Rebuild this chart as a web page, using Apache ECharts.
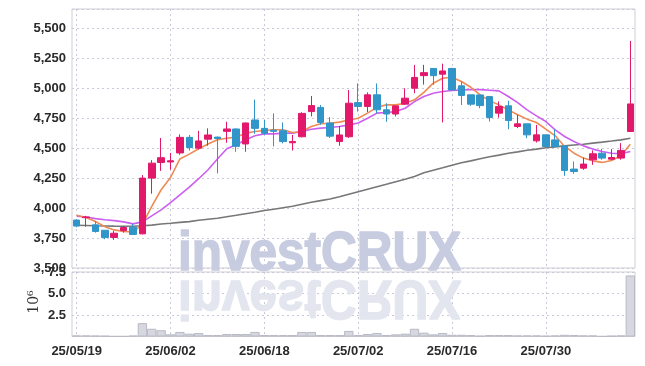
<!DOCTYPE html>
<html><head><meta charset="utf-8">
<script src="https://cdn.jsdelivr.net/npm/echarts@6/dist/echarts.min.js"></script>
<style>html,body{margin:0;padding:0;background:#fff}#c{width:645px;height:366px}</style>
</head><body><div id="c"></div>
<script>
const dates = ['25/05/19','25/05/20','25/05/21','25/05/22','25/05/23','25/05/26','25/05/27','25/05/28','25/05/29','25/05/30',
 '25/06/02','25/06/04','25/06/05','25/06/09','25/06/10','25/06/11','25/06/12','25/06/13','25/06/16','25/06/17',
 '25/06/18','25/06/19','25/06/20','25/06/23','25/06/24','25/06/25','25/06/26','25/06/27','25/06/30','25/07/01',
 '25/07/02','25/07/03','25/07/04','25/07/07','25/07/08','25/07/09','25/07/10','25/07/11','25/07/14','25/07/15',
 '25/07/16','25/07/17','25/07/18','25/07/21','25/07/22','25/07/23','25/07/24','25/07/25','25/07/28','25/07/29',
 '25/07/30','25/07/31','25/08/01','25/08/04','25/08/05','25/08/06','25/08/07','25/08/08','25/08/11','25/08/12'];
const openP  = [3900,3920,3860,3815,3755,3812,3840,3785,4250,4380, 4385,4460,4590,4500,4575,4592,4640,4660,4535,4735,
 4665,4650,4645,4545,4595,4805,4840,4710,4555,4595, 4880,4848,4945,4820,4785,4867,5000,5105,5165,5117,
 5165,5020,4945,4944,4930,4792,4853,4681,4703,4561, 4611,4569,4519,4325,4333,4403,4458,4408,4417,4639];
const closeP = [3850,3926,3805,3755,3790,3838,3780,4250,4375,4420, 4395,4590,4505,4560,4610,4580,4660,4515,4710,4665,
 4625,4640,4555,4555,4790,4855,4715,4600,4610,4875, 4848,4945,4820,4785,4853,4917,5090,5130,5105,5144,
 4986,4940,4867,4855,4756,4847,4731,4703,4611,4611, 4514,4514,4314,4305,4367,4453,4417,4422,4481,4869];
const lowP   = [3840,3845,3795,3740,3735,3795,3775,3780,4120,4310, 4320,4445,4480,4490,4520,4290,4545,4470,4470,4620,
 4610,4515,4540,4480,4590,4765,4695,4585,4520,4585, 4805,4800,4790,4720,4765,4860,4958,5030,5028,4715,
 4980,4860,4853,4833,4722,4755,4658,4667,4583,4547, 4510,4508,4269,4286,4319,4361,4403,4403,4403,4639];
const highP  = [3905,3935,3890,3815,3810,3850,3870,4275,4400,4585, 4460,4615,4610,4645,4665,4597,4720,4665,4712,4905,
 4735,4790,4715,4610,4800,4935,4860,4760,4685,4985, 5040,4965,5040,4875,4855,5000,5195,5195,5165,5205,
 5170,5055,4945,4944,4935,4890,4895,4778,4703,4694, 4611,4658,4522,4389,4422,4481,4494,4492,4542,5395];
const ma5 = [3940,3922,3888,3845,3818,3805,3800,3865,4014,4153, 4255,4410,4450,4495,4535,4570,4583,4592,4625,4639,
 4647,4653,4653,4631,4639,4681,4703,4708,4717,4735, 4750,4792,4842,4861,4861,4875,4903,4965,5042,5083,
 5092,5056,5008,4944,4895,4861,4819,4778,4742,4714, 4658,4603,4514,4458,4417,4394,4381,4397,4436,4533];
const ma20 = [3932,3925,3912,3903,3895,3885,3868,3885,3935,3985, 4045,4110,4175,4245,4320,4410,4495,4528,4569,4603,
 4619,4619,4625,4625,4639,4658,4667,4672,4681,4694, 4710,4750,4792,4797,4805,4833,4889,4931,4958,4972,
 4981,4986,4988,4988,4983,4978,4931,4880,4819,4769, 4722,4653,4597,4555,4519,4492,4472,4458,4453,4472];
const maLong = [3857,3855,3852,3851,3849,3848,3848,3852,3858,3867, 3873,3881,3887,3898,3907,3915,3928,3940,3953,3965,
 3980,3990,4003,4015,4032,4048,4062,4075,4094,4115, 4136,4157,4178,4198,4219,4240,4263,4294,4315,4336,
 4358,4378,4394,4411,4428,4442,4457,4469,4482,4492, 4503,4511,4519,4526,4533,4542,4550,4559,4569,4582];
const volume = [0.12,0.12,0.10,0.08,0.03,0.03,0.10,1.55,0.90,0.73, 0.25,0.53,0.33,0.41,0.17,0.17,0.29,0.29,0.29,0.53,
 0.17,0.17,0.17,0.17,0.53,0.53,0.17,0.17,0.17,0.65, 0.17,0.29,0.41,0.17,0.25,0.33,0.90,0.45,0.25,0.41,
 0.20,0.20,0.17,0.08,0.17,0.17,0.17,0.12,0.12,0.12, 0.08,0.12,0.20,0.17,0.12,0.12,0.03,0.08,0.12,7.10];

const FONT = "'Liberation Sans',Arial,sans-serif";
const WM_FONT = "bold 55px 'Liberation Sans',Arial,sans-serif";
const RED = '#e2186b', BLUE = '#3095c8';
const candle = openP.map((o, i) => [o, closeP[i], lowP[i], highP[i]]);
const gridLine = { show: true, lineStyle: { color: '#c9c9d9', type: [2, 3], width: 1 } };
const labelStyle = { color: '#2a2a2a', fontFamily: FONT, fontWeight: 'bold', fontSize: 13 };

const chart = echarts.init(document.getElementById('c'), null, { renderer: 'canvas' });
chart.setOption({
  animation: false,
  backgroundColor: '#fff',
  graphic: [
    { type: 'text', x: 178, y: 255, scaleX: 0.9, z: 1, silent: true,
      style: { text: 'investCRUX', font: WM_FONT, fill: '#c7cce0', stroke: '#c7cce0', lineWidth: 1.5,
        verticalAlign: 'middle', align: 'left' } },
    { type: 'text', x: 178, y: 296, scaleX: 0.9, scaleY: -1, z: 1, silent: true,
      style: { text: 'investCRUX', font: WM_FONT, fill: '#e3e6ef', stroke: '#e3e6ef', lineWidth: 1.5,
        verticalAlign: 'middle', align: 'left' } },
    { type: 'text', x: 34, y: 302, rotation: Math.PI / 2, z: 5, silent: true,
      style: { text: '10\u2076', font: "14px 'DejaVu Serif','Liberation Serif',serif", fill: '#333',
        verticalAlign: 'middle', align: 'center' } }
  ],
  grid: [
    { left: 72, top: 9, width: 563, height: 259, show: true, borderColor: '#cfcfd6', borderWidth: 1, backgroundColor: 'transparent' },
    { left: 72, top: 272, width: 563, height: 64.5, show: true, borderColor: '#cfcfd6', borderWidth: 1, backgroundColor: 'transparent' }
  ],
  xAxis: [
    { type: 'category', gridIndex: 0, data: dates, boundaryGap: true,
      axisLine: { show: false }, axisTick: { show: false }, axisLabel: { show: false },
      splitLine: Object.assign({ interval: 9, alignWithLabel: true }, gridLine) },
    { type: 'category', gridIndex: 1, data: dates, boundaryGap: true,
      axisLine: { show: false }, axisTick: { show: false },
      axisLabel: Object.assign({ interval: 9, margin: 8 }, labelStyle),
      splitLine: Object.assign({ interval: 9, alignWithLabel: true }, gridLine) }
  ],
  yAxis: [
    { type: 'value', gridIndex: 0, min: 3500, max: 5661, interval: 250,
      axisLine: { show: false }, axisTick: { show: false },
      axisLabel: Object.assign({ showMaxLabel: false, margin: 6, formatter: v => v.toLocaleString('en-US') }, labelStyle),
      splitLine: gridLine },
    { type: 'value', gridIndex: 1, min: 0, max: 7.5, interval: 2.5,
      axisLine: { show: false }, axisTick: { show: false },
      axisLabel: Object.assign({ showMinLabel: false, margin: 6, formatter: v => v.toFixed(1) }, labelStyle),
      splitLine: gridLine }
  ],
  series: [
    { name: 'MA120', type: 'line', xAxisIndex: 0, yAxisIndex: 0, data: maLong, symbol: 'none', z: 3,
      lineStyle: { color: '#777', width: 1.6 } },
    { name: 'MA20', type: 'line', xAxisIndex: 0, yAxisIndex: 0, data: ma20, symbol: 'none', z: 3,
      lineStyle: { color: '#cc5ef0', width: 1.6 } },
    { name: 'MA5', type: 'line', xAxisIndex: 0, yAxisIndex: 0, data: ma5, symbol: 'none', z: 3,
      lineStyle: { color: '#ef8a55', width: 1.6 } },
    { name: 'Price', type: 'candlestick', xAxisIndex: 0, yAxisIndex: 0, data: candle, barWidth: 7, z: 4,
      itemStyle: { color: RED, color0: BLUE, borderColor: RED, borderColor0: BLUE, borderWidth: 1 } },
    { name: 'Volume', type: 'bar', xAxisIndex: 1, yAxisIndex: 1, data: volume, barCategoryGap: '0%', z: 4,
      itemStyle: { color: '#d6d7df', borderColor: '#b9bac6', borderWidth: 1 } }
  ]
});
</script></body></html>
